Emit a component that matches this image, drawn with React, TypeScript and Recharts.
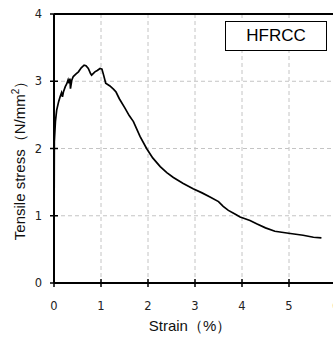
import { LineChart, Line, XAxis, YAxis, CartesianGrid, ReferenceLine } from 'recharts';

const strain = [
  0, 0.003, 0.007, 0.03, 0.057, 0.1, 0.13, 0.16, 0.18, 0.2, 0.24, 0.27, 0.3, 0.32, 0.34, 0.35,
  0.38, 0.41, 0.47, 0.52, 0.58, 0.64, 0.68, 0.73, 0.78, 0.8, 0.87, 0.92, 0.98, 1.02, 1.06, 1.1,
  1.19, 1.27, 1.32, 1.39, 1.51, 1.6, 1.69, 1.83, 1.97, 2.1, 2.26, 2.4, 2.54, 2.75, 2.96, 3.15,
  3.32, 3.5, 3.6, 3.71, 3.84, 3.96, 4.17, 4.31, 4.5, 4.7, 4.99, 5.3, 5.52, 5.69,
];
const stress = [
  0, 1.2, 2.1, 2.4, 2.57, 2.7, 2.77, 2.83, 2.77, 2.84, 2.92, 2.96, 3.02, 2.97, 3.04, 2.89,
  3.02, 3.07, 3.11, 3.14, 3.2, 3.24, 3.23, 3.19, 3.11, 3.09, 3.14, 3.16, 3.19, 3.18, 3.08, 2.97,
  2.93, 2.88, 2.84, 2.74, 2.6, 2.49, 2.4, 2.18, 2.0, 1.86, 1.73, 1.64, 1.57, 1.48, 1.4, 1.34,
  1.28, 1.21, 1.14, 1.08, 1.03, 0.98, 0.93, 0.88, 0.82, 0.77, 0.74, 0.71, 0.68, 0.67,
];
const xTicks = [0, 1, 2, 3, 4, 5, 6];
const yTicks = [0, 1, 2, 3, 4];

const data = strain.map((s, i) => ({ strain: s, stress: stress[i] }));

const W = 350;
const H = 338;
const LEFT = 54;
const TOP = 14;
const BOTTOM_Y = 283; // x axis line position

const XTick = (props: any) => {
  const { x, payload } = props;
  return (
    <g>
      <line x1={x} x2={x} y1={BOTTOM_Y - 4} y2={BOTTOM_Y + 4} stroke="#000" strokeWidth={1.5} />
      <text x={x} y={BOTTOM_Y + 27} textAnchor="middle" fontSize={11.5} fill="#222"
        fontFamily="DejaVu Sans, sans-serif">
        {payload.value}
      </text>
    </g>
  );
};

const YTick = (props: any) => {
  const { y, payload } = props;
  return (
    <g>
      <line x1={LEFT - 4} x2={LEFT + 4} y1={y} y2={y} stroke="#000" strokeWidth={1.5} />
      <text x={42} y={y + 4} textAnchor="end" fontSize={11.5} fill="#222"
        fontFamily="DejaVu Sans, sans-serif">
        {payload.value}
      </text>
    </g>
  );
};

export default function App() {
  return (
    <div style={{ position: 'fixed', left: 0, top: 0, width: 333, height: 338, overflow: 'hidden', background: '#fff' }}>
      <LineChart width={W} height={H} data={data}
        margin={{ top: TOP, right: W - LEFT - 282, left: 0, bottom: H - BOTTOM_Y - 30 }}>
        <CartesianGrid stroke="#c4c4c4" strokeDasharray="4 3" />
        <XAxis dataKey="strain" type="number" domain={[0, 6]} ticks={xTicks}
          axisLine={{ stroke: '#000', strokeWidth: 2 }} tickLine={false}
          tick={<XTick />} height={30} />
        <YAxis type="number" domain={[0, 4]} ticks={yTicks} width={LEFT}
          axisLine={{ stroke: '#000', strokeWidth: 2 }} tickLine={false}
          tick={<YTick />} />
        <ReferenceLine y={4} stroke="#000" strokeWidth={2} />
        <Line dataKey="stress" type="linear" stroke="#000" strokeWidth={1.7}
          dot={false} isAnimationActive={false} />
      </LineChart>
      <div style={{
        position: 'absolute', left: 20, top: 157, transform: 'translate(-50%, -50%) rotate(-90deg)',
        whiteSpace: 'nowrap', fontFamily: 'Liberation Sans, Arial, sans-serif', fontSize: 15, color: '#111',
      }}>
        Tensile stress（N/mm<sup style={{ fontSize: 10 }}>2</sup>）
      </div>
      <div style={{
        position: 'absolute', left: 190, top: 326, transform: 'translate(-50%, -50%)',
        whiteSpace: 'nowrap', fontFamily: 'Liberation Sans, Arial, sans-serif', fontSize: 15, color: '#111',
      }}>
        Strain（%）
      </div>
      <div style={{
        position: 'absolute', left: 225, top: 21, width: 100, height: 28, border: '1px solid #000',
        background: '#fff', display: 'flex', alignItems: 'center', justifyContent: 'center',
        fontFamily: 'Liberation Sans, Arial, sans-serif', fontSize: 17, color: '#000',
      }}>
        HFRCC
      </div>
    </div>
  );
}
